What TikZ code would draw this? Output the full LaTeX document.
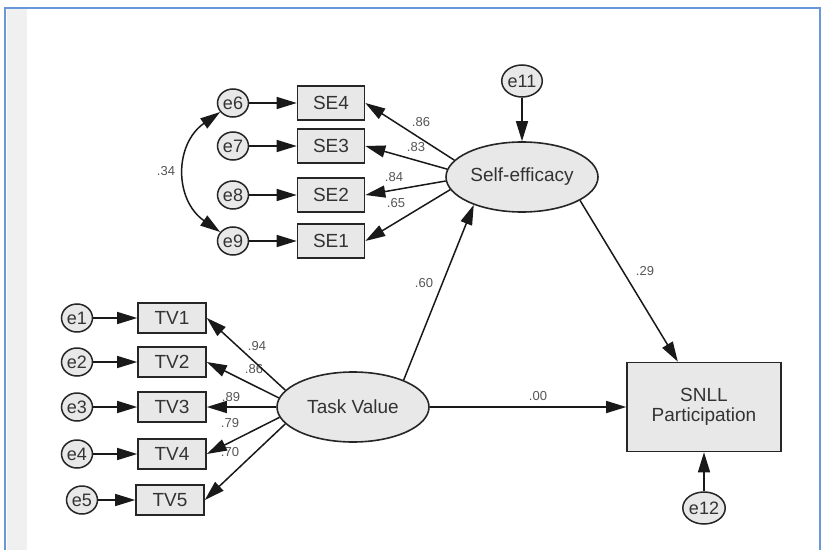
\documentclass[tikz,border=0pt]{standalone}
\usepackage{fontspec}
\setmainfont{Liberation Sans}
\usepackage{tikz}
\usetikzlibrary{%
  arrows.meta,%
  calc,%
  shapes.geometric,%
  positioning}
\definecolor{cadre}{HTML}{6A96DA}
\definecolor{bande}{HTML}{F0F0F0}
\definecolor{remplir}{HTML}{E8E8E8}
\definecolor{texte}{HTML}{333333}
\definecolor{coef}{HTML}{555555}

\begin{document}
\begin{tikzpicture}[x=1pt,y=1pt,
  obs/.style={rectangle,draw=black!85,line width=1.6pt,fill=remplir,text=texte,inner sep=0pt,font=\fontsize{19}{21}\selectfont},
  lat/.style={ellipse,draw=black!85,line width=1.6pt,fill=remplir,text=texte,inner sep=0pt,minimum width=152pt,minimum height=70pt,font=\fontsize{19}{21}\selectfont},
  err/.style={ellipse,draw=black!85,line width=1.5pt,fill=remplir,text=texte,inner sep=0pt,minimum width=31pt,minimum height=28pt,font=\fontsize{18}{20}\selectfont},
  coefl/.style={text=coef,inner sep=0pt,font=\fontsize{13}{15}\selectfont},
  fl/.style={-{Triangle[length=20pt,width=12pt]},line width=1.5pt,draw=black!90}]
\useasboundingbox (0,0) rectangle (821,550);
% cadre
\fill[bande] (7,0) rectangle (27,541);
\draw[cadre,line width=2pt] (5,0) -- (5,542) -- (821,542);
\draw[cadre,line width=2pt] (820,0) -- (820,542);
% description et nommage des noeuds
\node (SE) at (522,373) [lat] {Self-efficacy};
\node (TV) at (353,143) [lat] {Task Value};
\node (SNLL) at (704,143) [obs,minimum width=154pt,minimum height=89pt,align=center] {SNLL\\[-1pt]Participation};
\node (SE4) at (331,447) [obs,minimum width=67pt,minimum height=34pt] {SE4};
\node (SE3) at (331,404) [obs,minimum width=67pt,minimum height=34pt] {SE3};
\node (SE2) at (331,355) [obs,minimum width=67pt,minimum height=34pt] {SE2};
\node (SE1) at (331,309) [obs,minimum width=67pt,minimum height=34pt] {SE1};
\node (TV1) at (172,232) [obs,minimum width=68pt,minimum height=30pt] {TV1};
\node (TV2) at (172,188) [obs,minimum width=68pt,minimum height=30pt] {TV2};
\node (TV3) at (172,143) [obs,minimum width=68pt,minimum height=30pt] {TV3};
\node (TV4) at (172,96) [obs,minimum width=68pt,minimum height=30pt] {TV4};
\node (TV5) at (170,50) [obs,minimum width=68pt,minimum height=30pt] {TV5};
\node (e6) at (233,447) [err] {e6};
\node (e7) at (233,404) [err] {e7};
\node (e8) at (233,355) [err] {e8};
\node (e9) at (233,309) [err] {e9};
\node (e1) at (77,232) [err] {e1};
\node (e2) at (77,188) [err] {e2};
\node (e3) at (77,143) [err] {e3};
\node (e4) at (77,96) [err] {e4};
\node (e5) at (82,50) [err] {e5};
\node (e11) at (522,469) [err,minimum width=40pt,minimum height=32pt] {e11};
\node (e12) at (704,42) [err,minimum width=40pt,minimum height=32pt] {e12};
% coefficients
\node (c86) at (421,428) [coefl] {.86};
\node (c83) at (416,403) [coefl] {.83};
\node (c84) at (394,373) [coefl] {.84};
\node (c65) at (396,347) [coefl] {.65};
\node (c34) at (166,379) [coefl] {.34};
\node (c94) at (257,204) [coefl] {.94};
\node (c86b) at (254,181) [coefl] {.86};
\node (c89) at (231,153) [coefl] {.89};
\node (c79) at (230,127) [coefl] {.79};
\node (c70) at (230,98) [coefl] {.70};
\node (c60) at (424,267) [coefl] {.60};
\node (c29) at (645,279) [coefl] {.29};
\node (c00) at (538,154) [coefl] {.00};
% fleches
\foreach \e/\o in {e6/SE4,e7/SE3,e8/SE2,e9/SE1,e1/TV1,e2/TV2,e3/TV3,e4/TV4,e5/TV5}
  \draw[fl] (\e) -- (\o);
\foreach \a/\o in {166/SE4,174/SE3,183/SE2,190/SE1}
  \draw[fl] (SE.\a) -- (\o.east);
\foreach \a/\o in {166/TV1,173/TV2,180/TV3,188/TV4,194/TV5}
  \draw[fl] (TV.\a) -- (\o.east);
\draw[fl] (e11) -- (SE);
\draw[fl] (e12) -- (SNLL);
\draw[fl] (TV.28) -- (SE.210);
\draw[fl] (SE.-22) -- (SNLL.120);
\draw[fl] (TV) -- (SNLL);
\draw[fl,{Triangle[length=20pt,width=12pt]}-{Triangle[length=20pt,width=12pt]}] (e6) to[out=215,in=145,looseness=1.2] (e9);
\end{tikzpicture}
\end{document}
